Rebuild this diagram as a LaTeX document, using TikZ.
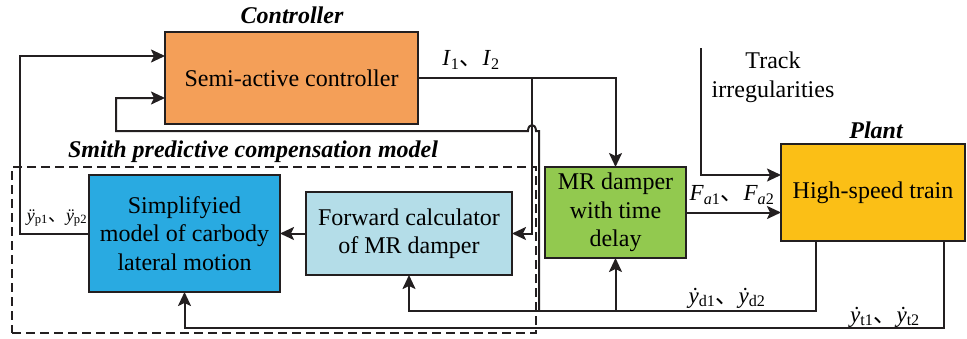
\documentclass[tikz,border=0pt]{standalone}
\usepackage{fontspec}
\setmainfont{Liberation Serif}
\newfontfamily\cjk{Noto Sans CJK SC}
\usetikzlibrary{arrows.meta,calc}
\definecolor{lc}{HTML}{231F20}
\definecolor{ctrlc}{HTML}{F49F58}
\definecolor{trainc}{HTML}{FBBF16}
\definecolor{mrc}{HTML}{92C94F}
\definecolor{simpc}{HTML}{29AAE1}
\definecolor{fwdc}{HTML}{B4DDE8}
\newcommand{\sep}{{\cjk 、}}
\begin{document}
\begin{tikzpicture}[x=1pt,y=-1pt,
  box/.style={draw=lc,line width=2pt,align=center,inner sep=0pt,outer sep=0pt,font=\fontsize{24}{28.5}\selectfont},
  conn/.style={draw=lc,line width=2pt},
  arr/.style={conn,-{Stealth[length=14pt,width=13pt,inset=3pt]}},
  ttl/.style={font=\fontsize{24}{28}\selectfont\bfseries\itshape,inner sep=0pt},
  lbl/.style={font=\fontsize{23}{26}\selectfont,inner sep=0pt},
  small/.style={font=\fontsize{18}{20}\selectfont,inner sep=0pt}
]
\useasboundingbox (0,0) rectangle (967,338);
% dashed group
\node[draw=lc,line width=1.4pt,dash pattern=on 9pt off 5pt,minimum width=524,minimum height=166,inner sep=0pt,outer sep=0pt] (smith) at (274,250) {};
% blocks
\node[box,fill=ctrlc,minimum width=253,minimum height=92] (ctrl) at (291.5,78) {Semi-active controller};
\node[box,fill=mrc,minimum width=141,minimum height=91] (mr) at (615.5,212.5) {MR damper\\with time\\delay};
\node[box,fill=trainc,minimum width=184,minimum height=97] (train) at (873,192.5) {High-speed train};
\node[box,fill=simpc,minimum width=191,minimum height=117] (simp) at (184.5,233.5) {Simplifyied\\model of carbody\\lateral motion};
\node[box,fill=fwdc,minimum width=206,minimum height=83] (fwd) at (409,233.5) {Forward calculator\\of MR damper};
% titles
\node[ttl] (tctrl) at (292,15) {Controller};
\node[ttl] (tsmith) at (253,152) {Smith predictive compensation model};
\node[ttl] (tplant) at (876,130) {Plant};
\node[font=\fontsize{24}{29}\selectfont,align=center,inner sep=0pt] (track) at (773,77) {Track\\irregularities};
% coordinates
\coordinate (j1) at (532,78);
\coordinate (trk) at (701,48);
\coordinate (td) at ($(train.south west)+(35,0)$);
\coordinate (tt) at ($(train.south east)+(-21,0)$);
\coordinate (dline) at (0,311);
\coordinate (tline) at (0,328);
\coordinate (j2) at (539,311);
\coordinate (up2) at (539,131);
\coordinate (hopr) at (536,131);
\coordinate (hopl) at (528,131);
\coordinate (lft2) at (116,131);
\coordinate (in2) at ($(ctrl.west)+(0,20)$);
\coordinate (in1) at ($(ctrl.west)+(0,-22)$);
\coordinate (lft1) at (20,233.5);
% connectors
\draw[arr] (ctrl.east) -- (ctrl.east -| mr.north) -- (mr.north);
\draw[arr] (j1) |- (fwd.east);
\draw[arr] (trk) |- ($(train.west)+(0,-17.5)$);
\draw[arr] (mr.east) -- (mr.east -| train.west);
\draw[arr] (td) |- (dline -| fwd.south) -- (fwd.south);
\draw[arr] (dline -| mr.south) -- (mr.south);
\draw[arr] (j2) -- (up2) -- (hopr) .. controls ($(hopr)+(0,-8)$) and ($(hopl)+(0,-8)$) .. (hopl) -- (lft2) -- (lft2 |- in2) -- (in2);
\draw[arr] (tt) |- (tline -| simp.south) -- (simp.south);
\draw[arr] (fwd.west) -- (simp.east);
\draw[arr] (simp.west) -- (lft1) -- (lft1 |- in1) -- (in1);
% labels
\node[lbl] (li) at (471,60) {\textit{I}\textsubscript{1}\sep\textit{I}\textsubscript{2}};
\node[lbl] (lf) at (732,195) {\textit{F}\textsubscript{\textit{a}1}\sep\textit{F}\textsubscript{\textit{a}2}};
\node[lbl] (ld) at (727,298) {\textit{ẏ}\textsubscript{d1}\sep\textit{ẏ}\textsubscript{d2}};
\node[lbl] (lt) at (885,317) {\textit{ẏ}\textsubscript{t1}\sep\textit{ẏ}\textsubscript{t2}};
\node[small] (lp) at (57,218) {\textit{ÿ}\textsubscript{p1}\sep\textit{ÿ}\textsubscript{p2}};
\end{tikzpicture}
\end{document}
